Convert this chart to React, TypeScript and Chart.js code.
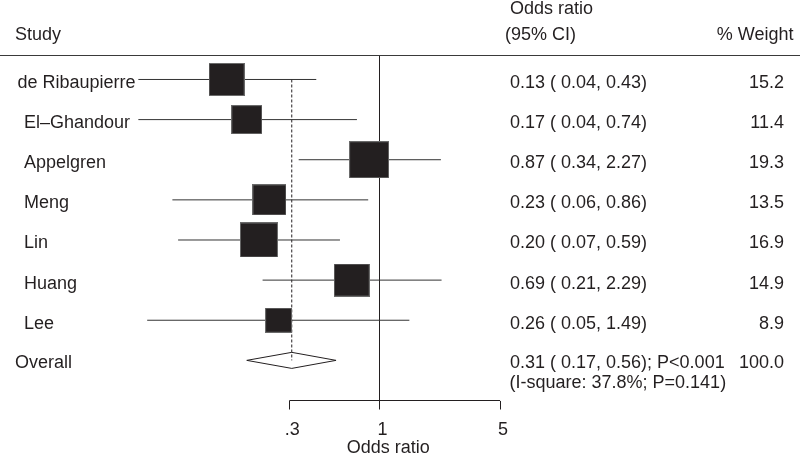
import React, { useEffect, useRef } from 'react';
import { Chart, registerables } from 'chart.js';

Chart.register(...registerables);

// ---- data ----
const studies = ['de Ribaupierre', 'El–Ghandour', 'Appelgren', 'Meng', 'Lin', 'Huang', 'Lee'];
const oddsRatios = [0.13, 0.17, 0.87, 0.23, 0.2, 0.69, 0.26];
const ciLow = [0.04, 0.04, 0.34, 0.063, 0.068, 0.21, 0.045];
const ciHigh = [0.43, 0.74, 2.27, 0.86, 0.59, 2.29, 1.49];
const ciLabels = [
  '0.13 ( 0.04, 0.43)',
  '0.17 ( 0.04, 0.74)',
  '0.87 ( 0.34, 2.27)',
  '0.23 ( 0.06, 0.86)',
  '0.20 ( 0.07, 0.59)',
  '0.69 ( 0.21, 2.29)',
  '0.26 ( 0.05, 1.49)',
];
const weights = [15.2, 11.4, 19.3, 13.5, 16.9, 14.9, 8.9];
const weightLabels = ['15.2', '11.4', '19.3', '13.5', '16.9', '14.9', '8.9'];

const overallName = 'Overall';
const overallOR = 0.31;
const overallLow = 0.17;
const overallHigh = 0.56;
const overallLines = ['0.31 ( 0.17, 0.56); P<0.001', '(I-square: 37.8%; P=0.141)'];
const overallWeightLabel = '100.0';

const xTicks = [0.3, 1, 5];
const xTickLabels = ['.3', '1', '5'];
const axisTitle = 'Odds ratio';
const headerStudy = 'Study';
const headerOR = ['Odds ratio', '(95% CI)'];
const headerWeight = '% Weight';

// ---- layout / style ----
const W = 800;
const H = 457;
const FONT = '"Liberation Sans", Arial, Helvetica, sans-serif';
const INK = '#231f20';
const PX_PER_DECADE = 172.5;
const X_AT_ONE = 379.5;
const AREA_LEFT = 0;
const AREA_RIGHT = 776.6;
const xMin = Math.pow(10, (AREA_LEFT - X_AT_ONE) / PX_PER_DECADE);
const xMax = Math.pow(10, (AREA_RIGHT - X_AT_ONE) / PX_PER_DECADE);
const yMin = -0.61;
const yMax = 8;
const overallRow = studies.length;

const squareCache = new Map<number, HTMLCanvasElement>();
function squareImage(w: number): HTMLCanvasElement {
  const cached = squareCache.get(w);
  if (cached) return cached;
  const c = document.createElement('canvas');
  const s = Math.sqrt(w);
  c.width = Math.round(9.2 * s);
  c.height = Math.round(8.5 * s);
  const g = c.getContext('2d')!;
  g.fillStyle = INK;
  g.fillRect(0, 0, c.width, c.height);
  g.strokeStyle = '#6a6a6a';
  g.lineWidth = 1;
  g.strokeRect(0.5, 0.5, c.width - 1, c.height - 1);
  squareCache.set(w, c);
  return c;
}

const textPlugin = {
  id: 'forestText',
  afterDraw(chart: any) {
    const ctx = chart.ctx as CanvasRenderingContext2D;
    const y = chart.scales.y;
    ctx.save();
    ctx.fillStyle = INK;
    ctx.font = `18px ${FONT}`;
    ctx.textBaseline = 'alphabetic';

    // headers
    ctx.textAlign = 'left';
    ctx.fillText(headerStudy, 15, 40);
    ctx.fillText(headerOR[0], 510, 13.5);
    ctx.fillText(headerOR[1], 505, 40);
    ctx.textAlign = 'right';
    ctx.fillText(headerWeight, 793.5, 40);

    // header rule
    ctx.strokeStyle = '#3a3a3a';
    ctx.lineWidth = 1;
    ctx.beginPath();
    ctx.moveTo(0, 55.5);
    ctx.lineTo(W, 55.5);
    ctx.stroke();

    // rows
    studies.forEach((name, i) => {
      const base = y.getPixelForValue(i) + 8.5;
      ctx.textAlign = 'left';
      ctx.fillText(name, i === 0 ? 17.5 : 24, base);
      ctx.fillText(ciLabels[i], 510, base);
      ctx.textAlign = 'right';
      ctx.fillText(weightLabels[i], 784, base);
    });

    const ob = y.getPixelForValue(overallRow) + 8;
    ctx.textAlign = 'left';
    ctx.fillText(overallName, 15, ob);
    ctx.fillText(overallLines[0], 510, ob);
    ctx.fillText(overallLines[1], 509.5, ob + 20);
    ctx.textAlign = 'right';
    ctx.fillText(overallWeightLabel, 784, ob);
    ctx.restore();
  },
};

export default function App() {
  const ref = useRef<HTMLCanvasElement>(null);

  useEffect(() => {
    const canvas = ref.current!;
    const lineDs = (data: { x: number; y: number }[], extra: any = {}) => ({
      data,
      showLine: true,
      borderColor: INK,
      borderWidth: 1,
      pointRadius: 0,
      pointHoverRadius: 0,
      fill: false,
      tension: 0,
      clip: false as any,
      ...extra,
    });

    const datasets: any[] = [
      {
        data: oddsRatios.map((v, i) => ({ x: v, y: i })),
        showLine: false,
        pointStyle: (c: any) => squareImage(weights[c.dataIndex]),
        pointRadius: (c: any) => (9.2 * Math.sqrt(weights[c.dataIndex])) / 2,
        pointHoverRadius: (c: any) => (9.2 * Math.sqrt(weights[c.dataIndex])) / 2,
        clip: false,
      },
      ...studies.map((_, i) =>
        lineDs(
          [
            { x: ciLow[i], y: i },
            { x: ciHigh[i], y: i },
          ],
          { borderColor: '#333333' }
        )
      ),
      lineDs([
        { x: overallLow, y: overallRow },
        { x: overallOR, y: overallRow - 0.2 },
        { x: overallHigh, y: overallRow },
        { x: overallOR, y: overallRow + 0.2 },
        { x: overallLow, y: overallRow },
      ]),
      lineDs(
        [
          { x: overallOR, y: 0 },
          { x: overallOR, y: overallRow },
        ],
        { borderDash: [3, 2] }
      ),
      lineDs([
        { x: 1, y: yMin },
        { x: 1, y: yMax },
      ]),
      lineDs([
        { x: xTicks[0], y: yMax },
        { x: xTicks[xTicks.length - 1], y: yMax },
      ]),
    ];

    const chart = new Chart(canvas, {
      type: 'scatter',
      data: { datasets },
      options: {
        animation: false,
        responsive: false,
        devicePixelRatio: 1,
        events: [],
        layout: {
          autoPadding: false,
          padding: { left: AREA_LEFT, right: W - AREA_RIGHT, top: 55, bottom: 0 },
        },
        plugins: {
          legend: { display: false },
          tooltip: { enabled: false },
        },
        scales: {
          x: {
            type: 'logarithmic',
            position: 'bottom',
            min: xMin,
            max: xMax,
            bounds: 'data',
            afterBuildTicks: (scale: any) => {
              scale.ticks = xTicks.map((v) => ({ value: v }));
            },
            afterFit: (scale: any) => {
              scale.height = H - 400.5;
            },
            ticks: {
              callback: (_v: any, i: number) => xTickLabels[i],
              font: { size: 18, family: FONT },
              color: INK,
              padding: 10,
              labelOffset: 3,
              maxRotation: 0,
              autoSkip: false,
            },
            grid: {
              display: true,
              drawOnChartArea: false,
              drawTicks: true,
              tickLength: 9,
              color: INK,
              lineWidth: 1,
            },
            border: { display: false },
            title: {
              display: true,
              text: axisTitle,
              font: { size: 18, family: FONT, lineHeight: 1 },
              color: INK,
              padding: 0,
            },
          } as any,
          y: {
            type: 'linear',
            min: yMin,
            max: yMax,
            bounds: 'data',
            reverse: true,
            display: false,
          } as any,
        },
      },
      plugins: [textPlugin],
    } as any);

    return () => chart.destroy();
  }, []);

  return (
    <div style={{ position: 'absolute', left: 0, top: 0, width: W, height: H, background: '#fff' }}>
      <canvas ref={ref} width={W} height={H} style={{ width: W, height: H, display: 'block' }} />
    </div>
  );
}
